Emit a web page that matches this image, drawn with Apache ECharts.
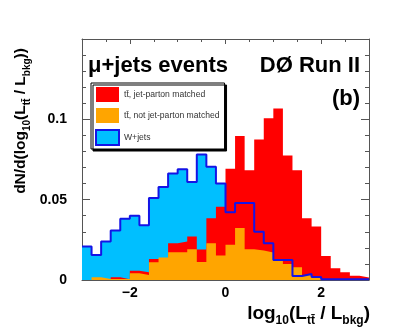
<!DOCTYPE html>
<html>
<head>
<meta charset="utf-8">
<script src="https://cdn.jsdelivr.net/npm/echarts@6/dist/echarts.min.js"></script>
<style>
  html, body { margin: 0; padding: 0; background: #fff; }
  #main { width: 411px; height: 334px; }
</style>
</head>
<body>
<div id="main"></div>
<script>
// 30 bins of width 0.2 between -3 and 3
var xMin = -3, xMax = 3, binWidth = 0.2;

// W+jets
var wjets = [0.0208, 0.0156, 0.0240, 0.0308, 0.0381, 0.0400, 0.0340, 0.0510, 0.0579, 0.0663,
             0.0690, 0.0610, 0.0781, 0.0705, 0.0600, 0.0422, 0.0479, 0.0479, 0.0300, 0.0229,
             0.0125, 0.0125, 0.0025, 0.0037, 0.0018, 0.0004, 0.0004, 0.0004, 0.0004, 0.0004];
// ttbar, jet-parton matched
var ttMatched = [0.0000, 0.0010, 0.0000, 0.0017, 0.0005, 0.0058, 0.0048, 0.0131, 0.0125, 0.0229,
                 0.0240, 0.0271, 0.0190, 0.0385, 0.0456, 0.0692, 0.0896, 0.0683, 0.0875, 0.1006,
                 0.1067, 0.0775, 0.0683, 0.0385, 0.0333, 0.0150, 0.0073, 0.0048, 0.0027, 0.0015];
// ttbar, not jet-parton matched
var ttUnmatched = [0.0000, 0.0017, 0.0006, 0.0006, 0.0006, 0.0042, 0.0031, 0.0110, 0.0140, 0.0173,
                   0.0173, 0.0192, 0.0112, 0.0229, 0.0152, 0.0219, 0.0323, 0.0192, 0.0183, 0.0171,
                   0.0129, 0.0100, 0.0079, 0.0031, 0.0015, 0.0000, 0.0000, 0.0000, 0.0000, 0.0000];

var xLabels = [-2, 0, 2];
var yLabels = [0, 0.05, 0.1];

var names = ['tt\u0304, jet-parton matched', 'tt\u0304, not jet-parton matched', 'W+jets'];

var font = 'Liberation Sans';
var frame = '#555';

// histogram as step points at the bin low edges, closed at xMax
function steps(vals) {
    var pts = vals.map(function (v, i) { return [xMin + i * binWidth, v]; });
    pts.push([xMax, vals[vals.length - 1]]);
    return pts;
}

function histo(name, vals, color) {
    return {
        name: name, type: 'line', step: 'end', data: steps(vals),
        symbol: 'none', silent: true,
        itemStyle: { color: color },
        lineStyle: { width: 0 },
        areaStyle: { color: color, opacity: 1, origin: 'start' }
    };
}

function xAx(pos, custom) {
    var a = {
        type: 'value', min: xMin, max: xMax, interval: 0.5, position: pos,
        splitLine: { show: false },
        axisLine: { show: !custom, onZero: false, lineStyle: { color: frame } },
        axisTick: { inside: true, length: custom ? 5 : 3, lineStyle: { color: frame } },
        axisLabel: { show: false }
    };
    if (custom) {
        a.axisTick.customValues = xLabels;
        if (pos === 'bottom') {
            a.axisLabel = {
                show: true, customValues: xLabels, margin: 6,
                color: '#000', fontFamily: font, fontWeight: 'bold', fontSize: 14,
                formatter: function (v) { return v < 0 ? '\u2212' + Math.abs(v) : String(v); }
            };
        }
    }
    return a;
}

function yAx(pos) {
    return {
        type: 'value', min: 0, max: 0.15, interval: 0.05, position: pos,
        splitLine: { show: false },
        axisLine: { show: true, onZero: false, lineStyle: { color: frame } },
        axisTick: { inside: true, length: 8, lineStyle: { color: frame } },
        minorTick: { show: true, splitNumber: 5, length: 4, lineStyle: { color: frame } },
        axisLabel: pos === 'left' ? {
            customValues: yLabels, margin: 15,
            color: '#000', fontFamily: font, fontWeight: 'bold', fontSize: 14
        } : { show: false }
    };
}

// rich styles for the axis titles: m = normal, s = lowered subscript
function titleRich(size, subSize, lh) {
    return {
        m: { fontFamily: font, fontWeight: 'bold', fontSize: size, lineHeight: lh, verticalAlign: 'middle', fill: '#000' },
        s: { fontFamily: font, fontWeight: 'bold', fontSize: subSize, lineHeight: subSize - 2, verticalAlign: 'bottom', fill: '#000' }
    };
}

var myChart = echarts.init(document.getElementById('main'));
var option = {
    backgroundColor: '#fff',
    animation: false,
    grid: { left: 82, right: 42, top: 39, bottom: 54 },
    xAxis: [xAx('bottom', false), xAx('bottom', true), xAx('top', false), xAx('top', true)],
    yAxis: [yAx('left'), yAx('right')],
    legend: {
        orient: 'vertical', left: 91, top: 83,
        padding: [4, 5, 3, 4], itemGap: 6, itemWidth: 23, itemHeight: 15,
        backgroundColor: '#fff', borderColor: '#000', borderWidth: 1,
        shadowColor: '#000', shadowOffsetX: 2, shadowOffsetY: 2, shadowBlur: 0,
        selectedMode: false,
        textStyle: { fontFamily: font, fontSize: 8.6, color: '#333' },
        data: [
            { name: names[0], icon: 'rect', itemStyle: { color: '#ff0000', borderWidth: 0 } },
            { name: names[1], icon: 'rect', itemStyle: { color: '#ffa500', borderWidth: 0 } },
            { name: names[2], icon: 'rect', itemStyle: { color: '#00bfff', borderColor: '#1414e6', borderWidth: 2 } }
        ]
    },
    series: [
        histo(names[2], wjets, '#00bfff'),
        histo(names[0], ttMatched, '#ff0000'),
        histo(names[1], ttUnmatched, '#ffa500'),
        {
            name: 'W+jets outline', type: 'line', step: 'end', data: steps(wjets),
            symbol: 'none', silent: true,
            lineStyle: { color: '#1414e6', width: 2 }
        }
    ],
    graphic: [
        { type: 'text', left: 88, top: 55, style: { text: '\u03bc+jets events', font: 'bold 22px ' + font, fill: '#000' } },
        { type: 'text', right: 51, top: 55, style: { text: 'D\u00d8 Run II', font: 'bold 22px ' + font, fill: '#000' } },
        { type: 'text', right: 51, top: 88, style: { text: '(b)', font: 'bold 22px ' + font, fill: '#000' } },
        {
            type: 'text', x: 370, y: 314,
            style: {
                text: '{m|log}{s|10}{m|(L}{s|tt\u0304}{m| / L}{s|bkg}{m|)}', align: 'right', verticalAlign: 'middle',
                rich: titleRich(19, 12, 26)
            }
        },
        {
            type: 'text', x: 21, y: 121, rotation: Math.PI / 2,
            style: {
                text: '{m|dN/d(log}{s|10}{m|(L}{s|tt\u0304}{m| / L}{s|bkg}{m|))}', align: 'center', verticalAlign: 'middle',
                rich: titleRich(15.5, 10, 22)
            }
        }
    ]
};
myChart.setOption(option);
</script>
</body>
</html>
